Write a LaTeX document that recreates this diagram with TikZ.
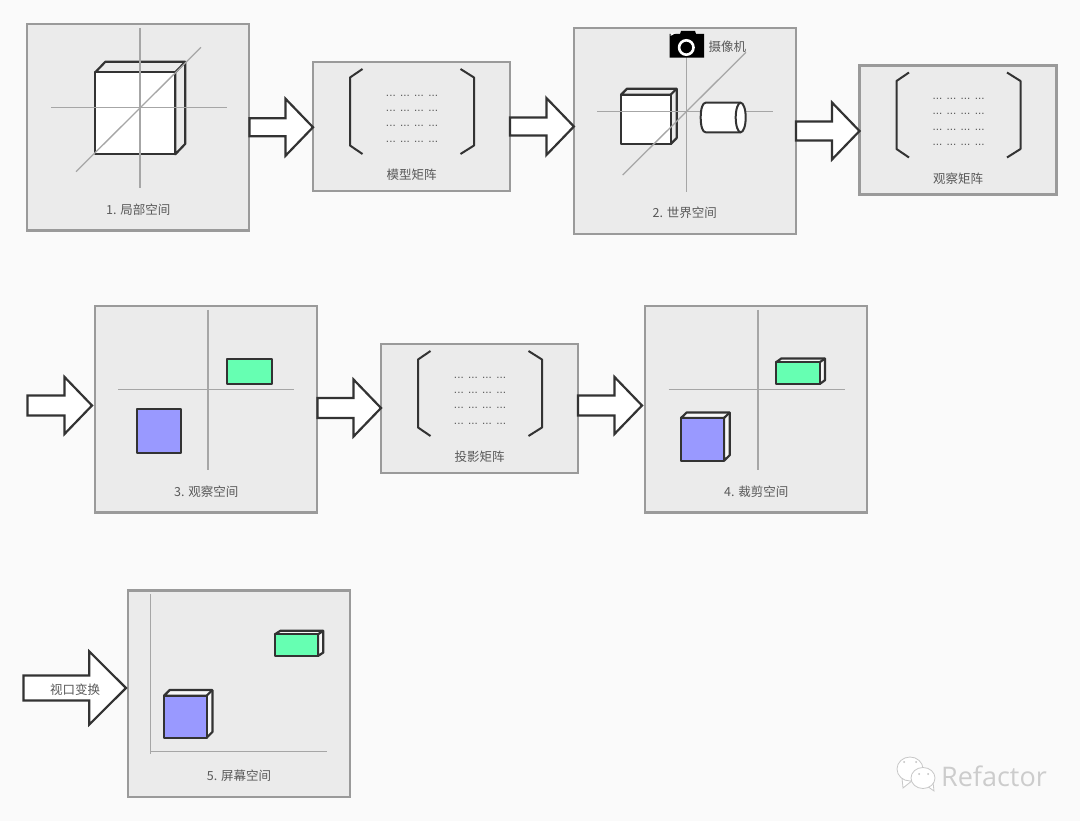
\documentclass[tikz,border=0pt]{standalone}
\usepackage{fontspec}
\setmainfont{Noto Sans CJK SC}
\newfontfamily\dotsfont{Liberation Sans}
\newfontfamily\wmfont{Open Sans}
\usetikzlibrary{calc}
\definecolor{bgc}{HTML}{FAFAFA}
\definecolor{panelc}{HTML}{EBEBEB}
\definecolor{edgec}{HTML}{9A9A9A}
\definecolor{inkc}{HTML}{333333}
\definecolor{axisc}{HTML}{A6A6A6}
\definecolor{textc}{HTML}{595959}
\definecolor{bluec}{HTML}{9999FF}
\definecolor{greenc}{HTML}{66FFB2}
\tikzset{
  x=1pt,y=-1pt,
  panel/.style={draw=edgec,fill=panelc,line width=2.1pt,outer sep=0pt,inner sep=0pt},
  axisline/.style={draw=axisc,line width=1.3pt},
  ink/.style={draw=inkc,line width=2.2pt,line join=round},
  thinink/.style={draw=inkc,line width=2pt,line join=round},
  bracket/.style={draw=inkc,line width=2pt,line join=round},
  block/.style={draw=inkc,fill=white,line width=2.2pt,line join=miter},
  lbl/.style={text=textc,font=\fontsize{12.5}{14}\selectfont,inner sep=0pt},
  dotrows/.style={text=textc,font=\dotsfont\fontsize{11.7}{15.4}\selectfont,align=center,inner sep=0pt},
}
% front x1 y1 x2 y2, back offset dx dy, front colour, side colour
\newcommand\boxcube[8]{%
  \path[ink,fill=#8] (#1,#2) -- (#1+#5,#2+#6) -- (#3+#5,#2+#6) -- (#3+#5,#4+#6) -- (#3,#4) -- (#3,#2) -- cycle;
  \draw[ink] (#3,#2) -- (#3+#5,#2+#6);
  \path[ink,fill=#7] (#1,#2) rectangle (#3,#4);
}
% tail coordinate, tip coordinate, half shaft, half head, head length
\newcommand\blockarrow[5]{%
  \path[block] let \p1=(#1),\p2=(#2) in
    (\x1,\y1+#3pt) -- (\x2-#5pt,\y1+#3pt) -- (\x2-#5pt,\y1+#4pt) -- (\x2,\y1) --
    (\x2-#5pt,\y1-#4pt) -- (\x2-#5pt,\y1-#3pt) -- (\x1,\y1-#3pt) -- cycle;
}
% name, centre x, centre y, label
\newcommand\matrixpanel[4]{%
  \node[panel,minimum width=197pt,minimum height=129pt] (#1) at (#2,#3) {};
  \begin{scope}[shift={(#2,#3)}]
    \draw[bracket] (-49,-57.5) -- (-61.5,-49) -- (-61.5,19) -- (-49,27.5);
    \draw[bracket] (49,-57.5) -- (62.5,-49) -- (62.5,19) -- (49,27.5);
    \node[dotrows] (#1dots) at (0.5,-8) {... ... ... ...\\... ... ... ...\\... ... ... ...\\... ... ... ...};
    \node[lbl] (#1label) at (0,48.5) {#4};
  \end{scope}
}
\begin{document}
\begin{tikzpicture}
\useasboundingbox (0,0) rectangle (1080,821);
\fill[bgc] (0,0) rectangle (1080,821);

% ---------- panels
\node[panel,minimum width=222pt,minimum height=206.5pt] (p1) at (138.4,127.25) {};
\node[panel,minimum width=222pt,minimum height=206.5pt] (p2) at (684.9,131) {};
\node[panel,minimum width=222pt,minimum height=206.5pt] (p3) at (206.4,409.25) {};
\node[panel,minimum width=222pt,minimum height=206.5pt] (p4) at (756.4,409.25) {};
\node[panel,minimum width=222pt,minimum height=206.5pt] (p5) at (239.4,693.75) {};
\matrixpanel{m1}{411.5}{126.5}{模型矩阵}
\matrixpanel{m2}{958}{130}{观察矩阵}
\matrixpanel{m3}{479.5}{408.5}{投影矩阵}

% ---------- panel 1
\boxcube{95.3}{72.3}{175.3}{154.3}{10}{-10.5}{white}{panelc}
\draw[axisline] (51,107.7) -- (227,107.7);
\draw[axisline] (140,28) -- (140,188);
\draw[axisline] (76,171.7) -- (201,47.3);
\node[lbl] (l1) at (138.3,209.3) {1. 局部空间};

% ---------- panel 2
\boxcube{621}{94.7}{670.7}{144}{6}{-6}{white}{panelc}
\draw[axisline] (597,111.7) -- (773,111.7);
\draw[axisline] (686.3,56) -- (686.3,191.7);
\draw[axisline] (622.7,175) -- (746,52.3);
% cylinder
\path[thinink,fill=white] (740.7,102.7) -- (705.7,102.7) .. controls (702.5,102.7) and (700.7,109) .. (700.7,117.5) .. controls (700.7,126) and (702.5,132.3) .. (705.7,132.3) -- (740.7,132.3) -- cycle;
\draw[thinink,fill=white] (740.7,117.5) ellipse[x radius=5,y radius=14.8];
% camera
\fill[black] (669.5,34) -- (680,34) -- (681,31) -- (695,31) -- (696,34) -- (704,34) -- (704,57.7) -- (669.5,57.7) -- cycle;
\fill[panelc!40!white] (670.5,36) -- (676,33) -- (670.5,33) -- cycle;
\draw[white,line width=2.6pt] (686.3,47.5) circle[radius=7.2];
\node[lbl] (camlabel) at (727.3,46.7) {摄像机};
\node[lbl] (l2) at (684.7,212.7) {2. 世界空间};

% ---------- panel 3
\draw[axisline] (118.3,389.7) -- (294.3,389.7);
\draw[axisline] (208,310) -- (208,470);
\path[ink,fill=bluec] (137,409.3) rectangle (181.3,452.7);
\path[ink,fill=greenc] (227,359) rectangle (271.7,384);
\node[lbl] (l3) at (206.3,491.3) {3. 观察空间};

% ---------- panel 4
\draw[axisline] (668.7,389.7) -- (844.7,389.7);
\draw[axisline] (758,310) -- (758,470);
\boxcube{681}{418}{724}{460.7}{5.7}{-5.5}{bluec}{panelc!35!white}
\boxcube{776}{362.3}{819.7}{384}{5.3}{-3.8}{greenc}{panelc!35!white}
\node[lbl] (l4) at (756.3,491.3) {4. 裁剪空间};

% ---------- panel 5
\draw[axisline] (150.3,594.3) -- (150.3,754.3);
\draw[axisline] (151,751.3) -- (327.3,751.3);
\boxcube{164}{695.7}{206.7}{737.7}{5.7}{-5.7}{bluec}{panelc!35!white}
\boxcube{275}{634.3}{318}{656}{5.3}{-3.5}{greenc}{panelc!35!white}
\node[lbl] (l5) at (239,775.7) {5. 屏幕空间};

% ---------- block arrows
\coordinate (a4s) at (27.5,405.5);
\coordinate (a4e) at (92,405.5);
\coordinate (a5s) at (317.4,408);
\coordinate (a6s) at (578,405.5);
\coordinate (a6e) at (642,405.5);
\coordinate (a7s) at (23.5,688);
\coordinate (a7e) at (126,688);
\blockarrow{p1.east}{m1.west}{9}{28.5}{27.5}
\blockarrow{m1.east}{p2.west}{9}{28.5}{27.5}
\blockarrow{p2.east}{m2.west}{9.5}{28.5}{27.5}
\blockarrow{a4s}{a4e}{10}{28.5}{27.5}
\blockarrow{a5s}{m3.west}{10}{28.5}{27.5}
\blockarrow{a6s}{a6e}{10}{28.5}{27.5}
\blockarrow{a7s}{a7e}{12.5}{36.5}{36.7}
\node[lbl] (l7) at (75,690) {视口变换};

% ---------- watermark
\path[draw=black!22,fill=white,line width=0.8pt] (902,778) -- (903,788) -- (913,780) -- cycle;
\draw[black!22,fill=white,line width=0.8pt] (910,769) ellipse[x radius=13,y radius=12];
\path[draw=black!22,fill=white,line width=0.8pt] (927,786) -- (934,791) -- (933,782) -- cycle;
\draw[black!22,fill=white,line width=0.8pt] (923,778) ellipse[x radius=12,y radius=10.5];
\fill[black!25] (904,762) circle[radius=1] (916,762) circle[radius=1] (919,774) circle[radius=1] (928,774) circle[radius=1];
\node[text=black!20,font=\wmfont\fontsize{27}{30}\selectfont,inner sep=0pt] (wm) at (994,776.5) {Refactor};
\end{tikzpicture}
\end{document}
